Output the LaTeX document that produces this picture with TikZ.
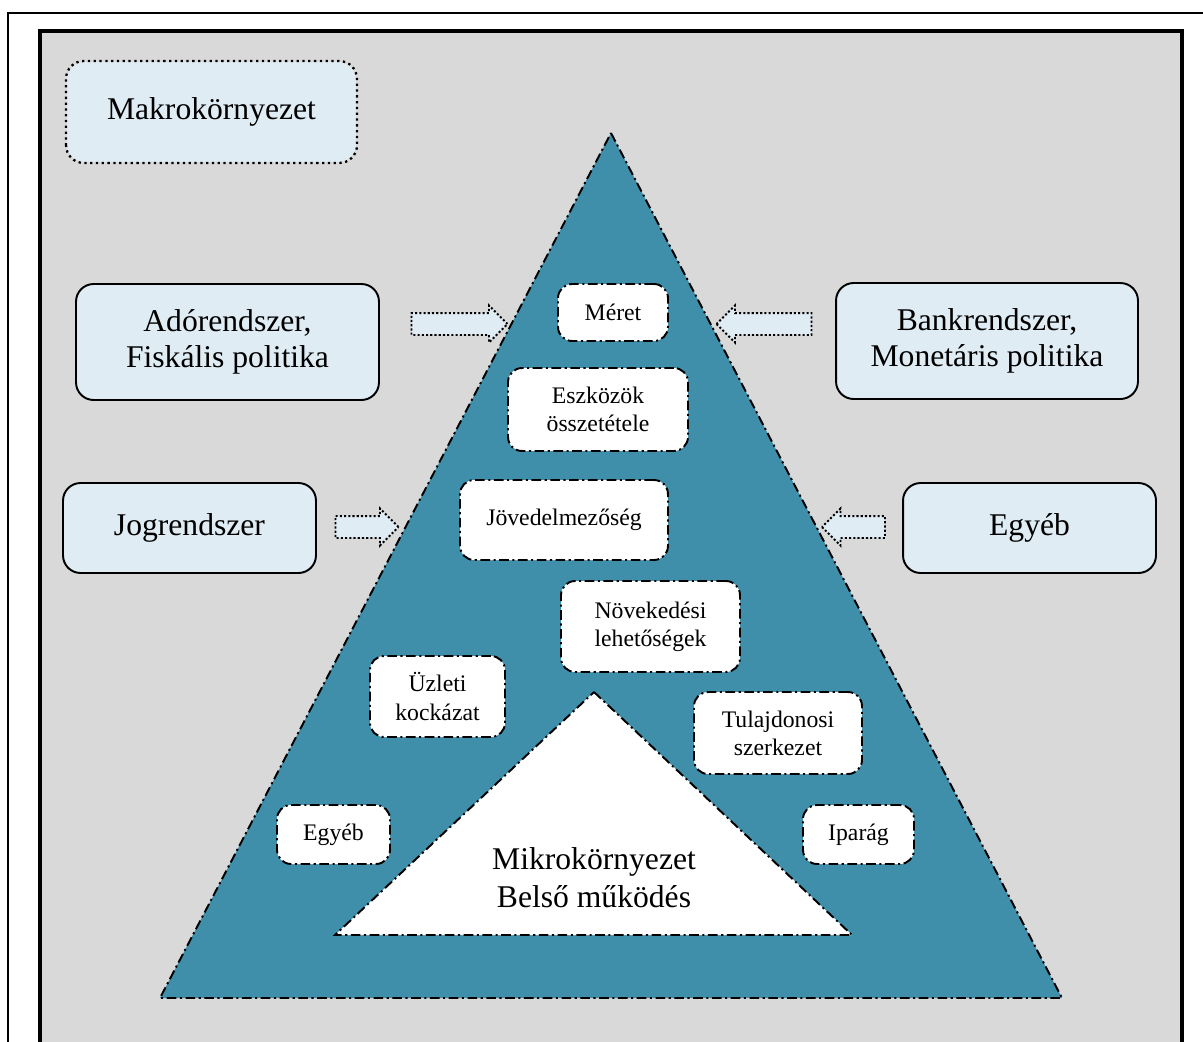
\documentclass[tikz,border=0pt]{standalone}
\usepackage{fontspec}
\setmainfont{Liberation Serif}
\usetikzlibrary{shapes.arrows}
\definecolor{bggray}{HTML}{D9D9D9}
\definecolor{pyrblue}{HTML}{3F8FAB}
\definecolor{paleblue}{HTML}{DFECF4}
\tikzset{
  dashdot/.style={dash pattern=on 5.5pt off 2pt on 1.2pt off 2pt,line width=1.1pt},
  outerbox/.style={draw,rounded corners=10pt,fill=paleblue,line width=1.1pt,align=center,font=\fontsize{18}{20.5}\selectfont,inner sep=0pt},
  innerbox/.style={draw,dashdot,rounded corners=8pt,fill=white,align=center,font=\fontsize{13.5}{16}\selectfont,inner sep=0pt},
  blockarrow/.style={draw,dash pattern=on 1.2pt off 1.2pt,line width=1.1pt,fill=paleblue,single arrow,single arrow head extend=0.15cm,single arrow head indent=0pt,inner xsep=0pt,inner ysep=0.2cm}
}
\begin{document}
\begin{tikzpicture}[x=0.02cm,y=-0.02cm]
\useasboundingbox[fill=white](0,0)rectangle(1203,1041);
\begin{scope}
\clip(0,0)rectangle(1203,1041);
\draw[line width=0.8pt](8,13)rectangle(1215,1060);
\draw[line width=2.3pt,fill=bggray](40,31)rectangle(1182,1070);
\end{scope}
% pyramids
\draw[dashdot,fill=pyrblue](611,133)--(1062,998)--(160,998)--cycle;
\draw[dashdot,fill=white](594,692)--(852,935)--(335,935)--cycle;
\node[align=center,font=\fontsize{18}{21.5}\selectfont](mikro)at(594,878){Mikrokörnyezet\\Belső működés};
% environment boxes
\node[outerbox,draw=none,minimum width=5.78cm,minimum height=2cm](makro)at(211.5,112){Makrokörnyezet};
\draw[dotted,line width=1.3pt,rounded corners=10pt](makro.south west)rectangle(makro.north east);
\node[outerbox,minimum width=6.06cm,minimum height=2.32cm](ado)at(227.5,342){Adórendszer,\\Fiskális politika};
\node[outerbox,minimum width=6.04cm,minimum height=2.32cm](bank)at(987,341){Bankrendszer,\\Monetáris politika};
\node[outerbox,minimum width=5.06cm,minimum height=1.8cm](jog)at(189.5,528){Jogrendszer};
\node[outerbox,minimum width=5.06cm,minimum height=1.8cm](egyebk)at(1029.5,528){Egyéb};
\node[blockarrow,minimum height=1.92cm](nyil1)at(454,324){};
\node[blockarrow,minimum height=1.9cm,shape border rotate=180](nyil2)at(769.5,324){};
\node[blockarrow,minimum height=1.26cm](nyil3)at(361.5,527){};
\node[blockarrow,minimum height=1.26cm,shape border rotate=180](nyil4)at(859,527){};
% factors
\node[innerbox,minimum width=2.2cm,minimum height=1.14cm](meret)at(613,312.5){Méret};
\node[innerbox,minimum width=3.6cm,minimum height=1.66cm](eszkoz)at(598,409.5){Eszközök\\összetétele};
\node[innerbox,minimum width=4.16cm,minimum height=1.6cm](jov)at(564,520){Jövedelmezőség};
\node[innerbox,minimum width=3.58cm,minimum height=1.82cm](nov)at(650.5,626.5){Növekedési\\lehetőségek};
\node[innerbox,minimum width=2.7cm,minimum height=1.62cm](uzlet)at(437.5,696.5){Üzleti\\kockázat};
\node[innerbox,minimum width=3.36cm,minimum height=1.64cm](tulaj)at(778,733){Tulajdonosi\\szerkezet};
\node[innerbox,minimum width=2.26cm,minimum height=1.18cm](egyebb)at(333.5,834.5){Egyéb};
\node[innerbox,minimum width=2.22cm,minimum height=1.18cm](ipar)at(858.5,834.5){Iparág};
\end{tikzpicture}
\end{document}
